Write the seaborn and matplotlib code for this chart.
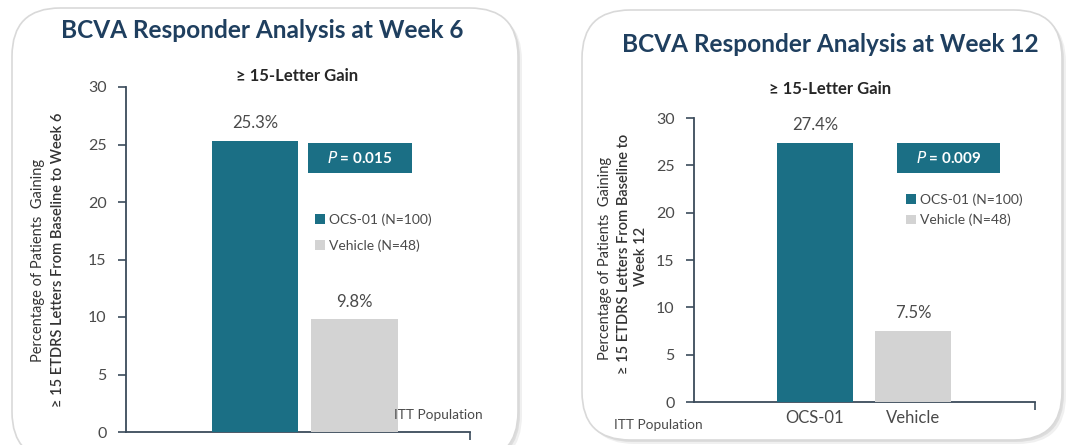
import matplotlib
matplotlib.use("Agg")
import matplotlib.pyplot as plt
from matplotlib.patches import FancyBboxPatch, Rectangle, Patch
import seaborn as sns
import pandas as pd

# ---- data ----
categories = ["OCS-01", "Vehicle"]
week6_values = [25.3, 9.8]
week12_values = [27.4, 7.5]
p_values = ["0.015", "0.009"]
legend_labels = ["OCS-01 (N=100)", "Vehicle (N=48)"]
titles = ["BCVA Responder Analysis at Week 6", "BCVA Responder Analysis at Week 12"]
subtitle = "\u2265 15-Letter Gain"
y_ticks = [0, 5, 10, 15, 20, 25, 30]

TEAL = "#1b6f85"
GREY = "#d3d3d3"
NAVY = "#1f3f5f"
SPINE = "#3b4b5b"
TXT = "#4a4a4a"

sns.set_theme(style="white")
plt.rcParams["font.family"] = ["Lato", "DejaVu Sans"]

W, H = 1070, 445
fig = plt.figure(figsize=(W / 100, H / 100), dpi=100)
fig.patch.set_facecolor("white")

def fx(px):
    return px / W

def fy(py):
    return 1 - py / H

# panel boxes (rounded, with soft shadow)
for (x0, y0, x1, y1) in [(12, 8, 518, 460), (582, 10, 1062, 440)]:
    for k, a in [(4, 0.06), (2, 0.08)]:
        sh = FancyBboxPatch((fx(x0 + k), fy(y1 + k)), fx(x1 - x0), (y1 - y0) / H,
                            boxstyle="round,pad=0,rounding_size=0.045",
                            transform=fig.transFigure, facecolor="black", alpha=a,
                            edgecolor="none", mutation_aspect=W / H, zorder=-3)
        fig.patches.append(sh)
    box = FancyBboxPatch((fx(x0), fy(y1)), fx(x1 - x0), (y1 - y0) / H,
                         boxstyle="round,pad=0,rounding_size=0.045",
                         transform=fig.transFigure, facecolor="white",
                         edgecolor="#d9d9d9", linewidth=1.2, mutation_aspect=W / H, zorder=-2)
    fig.patches.append(box)

panels = [
    dict(vals=week6_values, ax=(126, 470, 87, 432), xlim=(-1.30, 2.16), width=0.87,
         title_xy=(262, 30), sub_xy=(297, 76), p_box=(308, 143, 412, 173),
         leg_xy=(315, 223), leg_ls=1.0, itt_xy=(438, 415), show_xlabels=False,
         ylab=[("Percentage of Patients  Gaining", 38, 260, "normal"),
               ("\u2265 15 ETDRS Letters From Baseline to Week 6", 58, 260, "semibold")]),
    dict(vals=week12_values, ax=(694, 1035, 118, 402), xlim=(-1.235, 2.245), width=0.78,
         title_xy=(830, 44), sub_xy=(830, 89), p_box=(897, 143, 1000, 173),
         leg_xy=(906, 203), leg_ls=0.6, itt_xy=(658, 425), show_xlabels=True,
         ylab=[("Percentage of Patients  Gaining", 605, 258, "normal"),
               ("\u2265 15 ETDRS Letters From Baseline to", 624, 254, "semibold"),
               ("Week 12", 641, 256, "semibold")]),
]

for i, p in enumerate(panels):
    l, r, t, b = p["ax"]
    ax = fig.add_axes([fx(l), fy(b), fx(r - l), (b - t) / H])
    ax.set_facecolor("none")
    df = pd.DataFrame({"group": categories, "value": p["vals"]})
    sns.barplot(data=df, x="group", y="value", hue="group",
                palette=[TEAL, GREY], width=p["width"], legend=False,
                saturation=1, linewidth=0, ax=ax, zorder=3)
    ax.set_xlim(*p["xlim"])
    ax.set_ylim(0, 30)
    ax.set_yticks(y_ticks)
    ax.set_ylabel("")
    ax.set_xlabel("")
    for s in ["top", "right"]:
        ax.spines[s].set_visible(False)
    for s in ["left", "bottom"]:
        ax.spines[s].set_color(SPINE)
        ax.spines[s].set_linewidth(1.3)
    ax.tick_params(axis="y", direction="out", length=6, width=1.2, color=SPINE,
                   labelsize=11.5, labelcolor=TXT, pad=8, left=True)
    ax.set_xticks(range(len(categories)))
    if p["show_xlabels"]:
        ax.set_xticklabels(categories)
    else:
        ax.set_xticklabels([])
    ax.tick_params(axis="x", length=0, labelsize=12, labelcolor=TXT, pad=6)
    ax.set_xticks([p["xlim"][1]], minor=True)
    ax.tick_params(axis="x", which="minor", direction="out", length=6, width=1.2,
                   color=SPINE, bottom=True)

    # value labels
    for j, v in enumerate(p["vals"]):
        ax.annotate(f"{v}%", (j, v), xytext=(0, 7), textcoords="offset points",
                    ha="center", va="bottom", fontsize=12, color=TXT)

    # title & subtitle
    fig.text(fx(p["title_xy"][0]), fy(p["title_xy"][1]), titles[i], ha="center",
             va="center", fontsize=17.6, fontweight="bold", color=NAVY)
    fig.text(fx(p["sub_xy"][0]), fy(p["sub_xy"][1]), subtitle, ha="center",
             va="center", fontsize=12, fontweight="bold", color="#262626")

    # P value box
    x0, y0, x1, y1 = p["p_box"]
    fig.patches.append(Rectangle((fx(x0), fy(y1)), fx(x1 - x0), (y1 - y0) / H,
                                 transform=fig.transFigure, facecolor=TEAL,
                                 edgecolor="none", zorder=4))
    fig.text(fx((x0 + x1) / 2), fy((y0 + y1) / 2), f"$\\mathit{{P}}$ = {p_values[i]}",
             ha="center", va="center", fontsize=11, fontweight="bold", color="white",
             zorder=5)

    # legend
    handles = [Patch(facecolor=TEAL, edgecolor="none"), Patch(facecolor=GREY, edgecolor="none")]
    leg = fig.legend(handles, legend_labels, loc="upper left",
                     bbox_to_anchor=(fx(p["leg_xy"][0]), fy(p["leg_xy"][1] - 10)),
                     frameon=False, fontsize=10, handlelength=0.7, handleheight=0.7,
                     handletextpad=0.3, labelspacing=p["leg_ls"],
                     borderpad=0, borderaxespad=0)
    for tx in leg.get_texts():
        tx.set_color(TXT)

    # ITT Population
    fig.text(fx(p["itt_xy"][0]), fy(p["itt_xy"][1]), "ITT Population", ha="center",
             va="center", fontsize=9.8, color=TXT)

    # y labels
    for txt, x, y, wgt in p["ylab"]:
        fig.text(fx(x), fy(y), txt, rotation=90, ha="center", va="center",
                 fontsize=10.5, fontweight=wgt, color="#333333")

fig.savefig("out.png", dpi=100, facecolor="white")
